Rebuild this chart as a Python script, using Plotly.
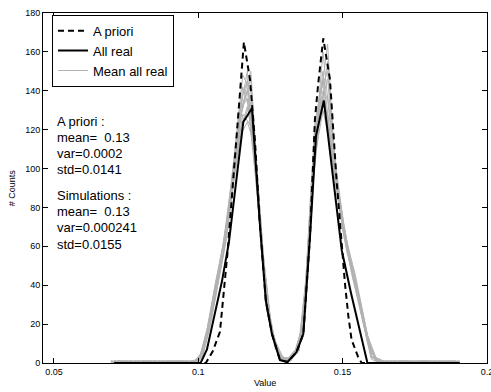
import plotly.graph_objects as go

# ---- A priori histogram ----
prior_x = [0.0709, 0.1026, 0.1050, 0.1075, 0.1102, 0.1133, 0.1158, 0.1179, 0.1196,
           0.1213, 0.1234, 0.1255, 0.1283, 0.1309, 0.1340, 0.1364, 0.1387, 0.1404,
           0.1415, 0.1433, 0.1456, 0.1479, 0.1497, 0.1508, 0.1520, 0.1531, 0.1554,
           0.1566, 0.1905]
prior_y = [0, 0, 6, 16, 58, 120, 165, 146, 115,
           72, 32, 15, 1.5, 0.5, 5.5, 15, 65, 125,
           143, 167, 146, 94, 60, 41, 24, 12, 3,
           0, 0]

# ---- histogram of all realisations ----
allreal_x = [0.0709, 0.1008, 0.1030, 0.1057, 0.1082, 0.1106, 0.1130, 0.1156, 0.1186,
             0.1213, 0.1234, 0.1255, 0.1283, 0.1309, 0.1340, 0.1364, 0.1387, 0.1408,
             0.1435, 0.1467, 0.1497, 0.1529, 0.1557, 0.1586, 0.1905]
allreal_y = [0, 0, 7, 25, 42, 62, 92, 124, 131,
             72, 32, 15, 1.5, 0.5, 5.5, 15, 65, 117,
             135, 96, 58, 36, 18, 0, 0]

# ---- individual realisations (two bin grids) ----
grid_a = [0.0709, 0.0737, 0.0765, 0.0793, 0.0820, 0.0848, 0.0876, 0.0904, 0.0932, 0.0959,
          0.0987, 0.1015, 0.1043, 0.1071, 0.1098, 0.1126, 0.1154, 0.1182, 0.1210, 0.1237,
          0.1265, 0.1293, 0.1321, 0.1349, 0.1376, 0.1404, 0.1432, 0.1460, 0.1488, 0.1515,
          0.1543, 0.1571, 0.1599, 0.1627, 0.1654, 0.1682, 0.1710, 0.1738, 0.1766, 0.1793,
          0.1821, 0.1849, 0.1877, 0.1905]
grid_b = [0.0697, 0.0725, 0.0753, 0.0781, 0.0808, 0.0836, 0.0864, 0.0892, 0.0920, 0.0947,
          0.0975, 0.1003, 0.1031, 0.1059, 0.1086, 0.1114, 0.1142, 0.1170, 0.1198, 0.1225,
          0.1253, 0.1281, 0.1309, 0.1337, 0.1364, 0.1392, 0.1420, 0.1448, 0.1476, 0.1503,
          0.1531, 0.1559, 0.1587, 0.1615, 0.1642, 0.1670, 0.1698, 0.1726, 0.1754, 0.1781,
          0.1809, 0.1837, 0.1865, 0.1893]

real_a1 = [0, 1, 0, 1, 1, 0, 1, 0, 1, 1,
           1, 5, 24, 46, 68, 100, 138, 150, 84, 31, 9, 2, 2, 8, 44, 118, 150, 112, 82, 58, 42, 22, 3,
           1, 0, 1, 1, 0, 1, 0, 1, 1, 0, 1]
real_a2 = [1, 0, 1, 0, 1, 1, 0, 1, 0, 1,
           0, 4, 22, 44, 66, 98, 128, 122, 78, 28, 11, 2, 3, 9, 46, 120, 140, 108, 84, 60, 44, 24, 4,
           0, 1, 0, 1, 1, 0, 1, 0, 0, 1, 0]
real_a3 = [0, 1, 1, 0, 1, 0, 1, 1, 0, 1,
           1, 6, 26, 48, 72, 108, 148, 140, 80, 30, 8, 1, 2, 7, 42, 112, 160, 118, 86, 62, 46, 26, 5,
           1, 1, 0, 1, 0, 1, 1, 0, 1, 1, 0]
real_a4 = [1, 1, 0, 1, 0, 1, 0, 1, 1, 0,
           0, 3, 20, 42, 64, 96, 124, 134, 86, 33, 12, 3, 2, 6, 40, 106, 130, 110, 80, 57, 41, 21, 2,
           0, 1, 1, 0, 1, 0, 1, 1, 0, 1, 1]
real_a5 = [0, 0, 1, 1, 0, 1, 1, 0, 1, 0,
           1, 5, 25, 47, 70, 104, 142, 128, 76, 27, 9, 2, 3, 10, 48, 124, 146, 106, 83, 61, 43, 25, 3,
           1, 0, 1, 0, 1, 1, 0, 1, 0, 1, 0]
real_a6 = [1, 0, 1, 0, 0, 1, 0, 1, 1, 1,
           0, 4, 23, 45, 67, 102, 133, 146, 82, 32, 10, 1, 1, 8, 45, 116, 136, 114, 85, 59, 40, 23, 4,
           0, 1, 0, 1, 0, 1, 1, 0, 1, 0, 1]
real_b1 = [1, 0, 1, 1, 0, 1, 0, 1, 0, 1,
           0, 1, 15, 38, 58, 86, 124, 140, 104, 52, 17, 3, 1, 6, 18, 88, 138, 150, 98, 68, 48, 30, 12,
           2, 1, 0, 1, 1, 0, 1, 0, 1, 0, 1]
real_b2 = [0, 1, 0, 1, 1, 0, 1, 1, 0, 0,
           1, 2, 17, 40, 60, 90, 118, 132, 108, 55, 18, 4, 2, 7, 20, 92, 132, 164, 94, 66, 47, 28, 10,
           1, 0, 1, 0, 1, 1, 0, 1, 1, 0, 0]
real_b3 = [1, 1, 0, 0, 1, 1, 0, 1, 1, 0,
           0, 1, 13, 35, 55, 84, 128, 150, 98, 48, 15, 2, 1, 5, 16, 84, 128, 138, 100, 70, 50, 32, 14,
           3, 1, 1, 0, 1, 0, 1, 1, 0, 1, 1]
real_b4 = [0, 1, 1, 0, 1, 0, 1, 0, 1, 1,
           0, 2, 16, 39, 59, 88, 116, 124, 110, 56, 19, 4, 2, 6, 19, 90, 136, 128, 92, 67, 49, 31, 12,
           2, 0, 1, 1, 0, 1, 0, 1, 0, 1, 0]
real_b5 = [1, 0, 0, 1, 0, 1, 1, 0, 1, 0,
           1, 1, 14, 37, 57, 85, 122, 145, 102, 50, 16, 3, 1, 6, 17, 86, 124, 155, 97, 69, 46, 29, 11,
           1, 1, 0, 1, 1, 0, 1, 0, 1, 1, 0]
real_b6 = [0, 1, 1, 0, 1, 1, 0, 1, 0, 1,
           0, 2, 18, 41, 61, 92, 130, 136, 96, 53, 18, 3, 2, 7, 21, 94, 130, 146, 102, 72, 51, 33, 13,
           2, 1, 0, 1, 0, 1, 1, 0, 1, 0, 1]

realisations = [(grid_a, real_a1), (grid_a, real_a2), (grid_a, real_a3),
                (grid_a, real_a4), (grid_a, real_a5), (grid_a, real_a6),
                (grid_b, real_b1), (grid_b, real_b2), (grid_b, real_b3),
                (grid_b, real_b4), (grid_b, real_b5), (grid_b, real_b6)]

stats_lines = ["A priori :", "mean=\u00a0 0.13", "var=0.0002", "std=0.0141",
               "Simulations :", "mean=\u00a0 0.13", "var=0.000241", "std=0.0155"]
stats_y = [124.4, 116.1, 107.6, 99.4, 86.2, 77.7, 69.5, 61.0]

x_ticks = [0.05, 0.1, 0.15, 0.2]
x_ticktext = ["0.05", "0.1", "0.15", "0.2"]
y_ticks = [0, 20, 40, 60, 80, 100, 120, 140, 160, 180]

FONT = "Liberation Sans, Arial, Helvetica, sans-serif"
GRAY = "#b2b2b2"

fig = go.Figure()

for k, (gx, gy) in enumerate(realisations):
    fig.add_trace(go.Scatter(
        x=gx, y=gy, mode="lines", line=dict(color=GRAY, width=1),
        name="Mean all real", legendgroup="real", showlegend=(k == 0),
        legendrank=3, hoverinfo="skip"))

fig.add_trace(go.Scatter(
    x=allreal_x, y=allreal_y, mode="lines", line=dict(color="black", width=2),
    name="All real", legendrank=2))

fig.add_trace(go.Scatter(
    x=prior_x, y=prior_y, mode="lines",
    line=dict(color="black", width=2, dash="6px,4px"),
    name="A priori", legendrank=1))

for txt, yy in zip(stats_lines, stats_y):
    fig.add_annotation(x=0.0502, y=yy, xref="x", yref="y", text=txt,
                       showarrow=False, xanchor="left", yanchor="middle",
                       font=dict(family=FONT, size=13, color="black"))

fig.add_annotation(x=0.5, y=-0.058, xref="paper", yref="paper", text="Value",
                   showarrow=False, xanchor="center", yanchor="middle",
                   font=dict(family=FONT, size=9, color="black"))
fig.add_annotation(x=-0.069, y=0.5, xref="paper", yref="paper", text="# Counts",
                   showarrow=False, textangle=-90, xanchor="center", yanchor="middle",
                   font=dict(family=FONT, size=9, color="black"))

axis_common = dict(showgrid=False, zeroline=False, showline=True, linecolor="black",
                   linewidth=1, mirror="ticks", ticks="inside", ticklen=5,
                   tickcolor="black", tickwidth=1, ticklabeloverflow="allow",
                   tickfont=dict(family=FONT, size=9, color="black"))

fig.update_xaxes(range=[0.0462, 0.20002], tickvals=x_ticks, ticktext=x_ticktext,
                 automargin=False, **axis_common)
fig.update_yaxes(range=[0, 180], tickvals=y_ticks, automargin=False, **axis_common)

fig.update_layout(
    width=491, height=392,
    margin=dict(l=43, r=4, t=13, b=29),
    paper_bgcolor="white", plot_bgcolor="white",
    font=dict(family=FONT, size=9, color="black"),
    showlegend=True,
    legend=dict(x=0.0203, y=0.995, xanchor="left", yanchor="top",
                bgcolor="white", bordercolor="black", borderwidth=1,
                font=dict(family=FONT, size=13, color="black"),
                tracegroupgap=0, itemwidth=30),
)

fig.write_html("out.html")
